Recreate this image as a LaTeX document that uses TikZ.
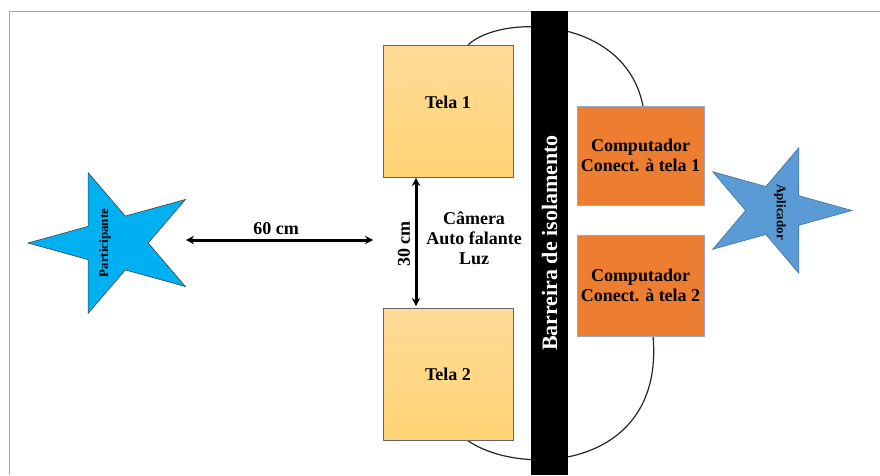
\documentclass[tikz,border=0pt]{standalone}
\usepackage{fontspec}
\setmainfont{Liberation Serif}
\usetikzlibrary{arrows.meta,backgrounds}
\definecolor{partblue}{RGB}{0,176,240}
\definecolor{aplblue}{RGB}{91,155,213}
\definecolor{aplline}{RGB}{65,113,156}
\definecolor{telatop}{RGB}{255,219,153}
\definecolor{telabot}{RGB}{255,211,116}
\definecolor{compfill}{RGB}{237,125,49}
\definecolor{compline}{RGB}{150,170,200}
\definecolor{framegray}{RGB}{165,165,165}
\begin{document}
\begin{tikzpicture}[x=1pt,y=-1pt,
  lbl/.style={font=\bfseries\fontsize{18}{20.5}\selectfont, align=center, inner sep=0pt},
  telabox/.style={draw=black!60, line width=0.6pt, top color=telatop, bottom color=telabot,
    minimum width=130pt, minimum height=132pt, inner sep=0pt, outer sep=0pt},
  compbox/.style={draw=compline, line width=0.7pt, fill=compfill,
    minimum width=127pt, inner sep=0pt, outer sep=0pt, align=center,
    font=\bfseries\fontsize{18}{20.5}\selectfont},
  barrierbox/.style={fill=black, text=white, rotate=90, minimum width=464pt, minimum height=37pt,
    inner sep=0pt, outer sep=0pt, font=\bfseries\fontsize{22}{24}\selectfont},
  arcline/.style={draw=black!85, line width=1.2pt},
  dimarrow/.style={line width=3pt, {Stealth[length=8pt,width=8.5pt]}-{Stealth[length=8pt,width=8.5pt]}},
  startext/.style={font=\bfseries\fontsize{13}{14}\selectfont, inner sep=0pt}
]
\useasboundingbox (0,0) rectangle (880,475);

% frame
\draw[framegray, line width=1.3pt] (9.5,475) -- (9.5,11.5) -- (880,11.5);

% boxes
\node[telabox] (tela1) at (448,111) {};
\node[telabox] (tela2) at (448,374) {};
\node[lbl] (tela1t) at (448,102) {Tela 1};
\node[lbl] (tela2t) at (448,374) {Tela 2};
\node[compbox, minimum height=99pt] (comp1) at (640.5,155.5) {Computador\\Conect. à tela 1};
\node[compbox, minimum height=101pt] (comp2) at (640.5,285.5) {Computador\\[-1pt]Conect. à tela 2};
\node[barrierbox] (barrier) at (549.5,243) {Barreira de isolamento};

% arcs behind
\begin{scope}[on background layer]
\draw[arcline] ([xshift=20pt]tela1.north) .. controls (500,14) and (625,15) .. ([xshift=2.5pt]comp1.north);
\draw[arcline] ([xshift=19pt]tela2.south) .. controls (520,478) and (665,470) .. ([xshift=12.5pt]comp2.south);
\end{scope}

% participant star
\begin{scope}[shift={(115,243)}]
\draw[fill=partblue, draw=black!75, line width=0.6pt]
  (180:87 and 74) -- (216:33.2 and 28.3) -- (252:87 and 74) -- (288:33.2 and 28.3) --
  (324:87 and 74) -- (0:33.2 and 28.3) -- (36:87 and 74) -- (72:33.2 and 28.3) --
  (108:87 and 74) -- (144:33.2 and 28.3) -- cycle;
\end{scope}
\node[startext, rotate=90] (part) at (105,243) {Participante};

% aplicador star
\begin{scope}[shift={(775,210.5)}]
\draw[fill=aplblue, draw=aplline, line width=0.6pt]
  (0:77 and 66) -- (36:29.4 and 25.2) -- (72:77 and 66) -- (108:29.4 and 25.2) --
  (144:77 and 66) -- (180:29.4 and 25.2) -- (216:77 and 66) -- (252:29.4 and 25.2) --
  (288:77 and 66) -- (324:29.4 and 25.2) -- cycle;
\end{scope}
\node[startext, rotate=-90] (apl) at (780,212) {Aplicador};

% dimension arrows
\coordinate (a60l) at (186,240);
\coordinate (a60r) at (373,240);
\draw[dimarrow] (a60l) -- (a60r);
\node[lbl] (l60) at (276,229) {60 cm};
\draw[dimarrow] ([xshift=-32pt,yshift=-1pt]tela1.south) -- ([xshift=-32pt,yshift=2pt]tela2.north);
\node[lbl, rotate=90] (l30) at (404,244) {30 cm};

\node[lbl, font=\bfseries\fontsize{18}{20}\selectfont] (equip) at (474,238) {Câmera\\Auto falante\\Luz};
\end{tikzpicture}
\end{document}
